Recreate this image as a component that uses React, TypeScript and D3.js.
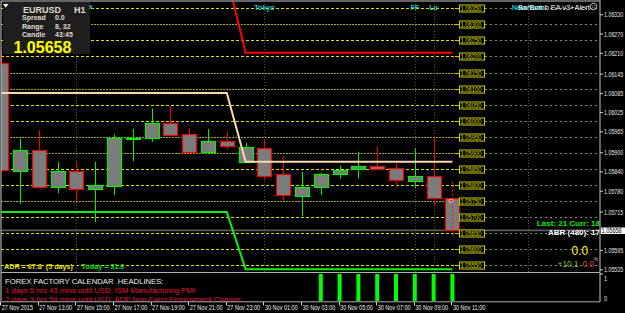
import React from 'react';
import * as d3 from 'd3';

const W = 625;
const H = 313;

// ---- data ----
const timeTickBars = [0, 2, 4, 6, 8, 10, 12, 14, 16, 18, 20, 22, 24];
const timeTickLabels = [
  '27 Nov 2015', '27 Nov 13:00', '27 Nov 15:00', '27 Nov 17:00', '27 Nov 19:00',
  '27 Nov 21:00', '27 Nov 23:00', '30 Nov 01:00', '30 Nov 03:00', '30 Nov 05:00',
  '30 Nov 07:00', '30 Nov 09:00', '30 Nov 11:00',
];

const opens = [1.06181, 1.05843, 1.05909, 1.05794, 1.05842, 1.05786, 1.05797, 1.05945, 1.05945, 1.05993, 1.05957, 1.05901, 1.05937, 1.05872, 1.05914, 1.05833, 1.05766, 1.05793, 1.05833, 1.05848, 1.05858, 1.05851, 1.05811, 1.05828, 1.05758];
const highs = [1.06220, 1.05943, 1.05971, 1.05871, 1.05871, 1.05871, 1.05958, 1.05974, 1.06038, 1.06046, 1.05976, 1.05974, 1.05966, 1.05931, 1.05940, 1.05890, 1.05840, 1.05838, 1.05859, 1.05903, 1.05919, 1.05867, 1.05914, 1.05950, 1.05810];
const lows = [1.05840, 1.05740, 1.05794, 1.05774, 1.05750, 1.05684, 1.05768, 1.05874, 1.05934, 1.05956, 1.05901, 1.05901, 1.05909, 1.05872, 1.05815, 1.05750, 1.05703, 1.05768, 1.05819, 1.05819, 1.05850, 1.05792, 1.05789, 1.05737, 1.05634];
const closes = [1.05846, 1.05909, 1.05794, 1.05842, 1.05788, 1.05798, 1.05945, 1.05946, 1.05993, 1.05956, 1.05901, 1.05936, 1.05920, 1.05918, 1.05827, 1.05767, 1.05792, 1.05833, 1.05847, 1.05859, 1.05850, 1.05814, 1.05828, 1.05758, 1.05658];

const levelPrices = [1.0635, 1.063, 1.0625, 1.062, 1.0615, 1.061, 1.0605, 1.06, 1.0595, 1.059, 1.0585, 1.058, 1.0575, 1.057, 1.0565, 1.056, 1.0555];
// 1.05655 sits under the bid price box in the reference, so it is not drawn
const axisPrices = [1.0633, 1.0627, 1.0621, 1.06145, 1.06085, 1.06025, 1.05965, 1.059, 1.0584, 1.0578, 1.05715, 1.05595, 1.05535];

const upperStop = [1.06086, 1.06086, 1.06086, 1.06086, 1.06086, 1.06086, 1.06086, 1.06086, 1.06086, 1.06086, 1.06086, 1.06086, 1.06086, 1.05872, 1.05872, 1.05872, 1.05872, 1.05872, 1.05872, 1.05872, 1.05872, 1.05872, 1.05872, 1.05872, 1.05872];
const redStop = [1.06451, 1.06451, 1.06451, 1.06451, 1.06451, 1.06451, 1.06451, 1.06451, 1.06451, 1.06451, 1.06451, 1.06451, 1.06451, 1.06212, 1.06212, 1.06212, 1.06212, 1.06212, 1.06212, 1.06212, 1.06212, 1.06212, 1.06212, 1.06212, 1.06212];
const greenStop = [1.05715, 1.05715, 1.05715, 1.05715, 1.05715, 1.05715, 1.05715, 1.05715, 1.05715, 1.05715, 1.05715, 1.05715, 1.05715, 1.05537, 1.05537, 1.05537, 1.05537, 1.05537, 1.05537, 1.05537, 1.05537, 1.05537, 1.05537, 1.05537, 1.05537];

const signalHist = [0, 0, 0, 0, 0, 0, 0, 0, 0, 0, 0, 0, 0, 0, 0, 0, 0, 1, 1, 1, 1, 1, 1, 1, 1];

const sessionBars = [4, 14, 22, 23, 28];
const sessionNames = ['', 'Tokyo', 'FF', 'Lo', 'New York'];

const symbol = 'EURUSD';
const timeframe = 'H1';
const spread = '0.0';
const range = '8, 32';
const candleTime = '43:45';
const bid = 1.05658;

const adrText = 'ADR = 67.8  (5 days)';
const todayText = 'Today = 31.6';
const newsTitle = 'FOREX FACTORY CALENDAR  HEADLINES:';
const newsLines = [
  '1 days 5 hrs 43 mins until USD: ISM Manufacturing PMI',
  '2 days 3 hrs 58 mins until USD: ADP Non-Farm Employment Change',
];
const barCountText = 'Last: 21 Curr: 18';
const abrText = 'ABR (480): 17';
const bigValue = '0.0';
const plusValue = '+10.1';
const redValue = '0.0';

const FONT = "'Liberation Sans', Arial, sans-serif";

type TP = {
  x: number; y: number; children: React.ReactNode; size?: number; fill?: string;
  sx?: number; weight?: number | string; anchor?: 'start' | 'middle' | 'end'; family?: string;
};
const Txt = ({ x, y, children, size = 7, fill = '#fff', sx = 1, weight = 400, anchor = 'start', family = FONT }: TP) => (
  <text
    transform={`translate(${x},${y}) scale(${sx},1)`}
    fontSize={size}
    fill={fill}
    fontWeight={weight}
    textAnchor={anchor}
    fontFamily={family}
    style={{ whiteSpace: 'pre' }}
  >
    {children}
  </text>
);

export default function App() {
  const x = d3.scaleLinear().domain([0, 24]).range([1.2, 452.4]);
  const y = d3.scaleLinear().domain([1.0555, 1.0635]).range([265, 8.36]);
  const yh = d3.scaleLinear().domain([0, 1]).range([301, 274]);
  const fmt = d3.format('.5f');
  const mkLine = (vals: number[]) =>
    d3.line<number>().x((_, i) => x(i)).y((v) => y(v))(vals) || '';
  const bodyW = 14;

  return (
    <svg
      width={W}
      height={H}
      style={{ position: 'absolute', left: 0, top: 0, display: 'block' }}
    >
      <defs>
        <clipPath id="mainClip">
          <rect x={1} y={1.5} width={599} height={270.5} />
        </clipPath>
        <clipPath id="subClip">
          <rect x={1} y={273.5} width={599} height={28} />
        </clipPath>
      </defs>
      <rect x={0} y={0} width={W} height={H} fill="#000" />

      <g clipPath="url(#mainClip)">
        {/* level lines */}
        {levelPrices.map((p, i) => {
          const dense = i > 0 && i <= 12 && (i % 4 === 0 || i % 4 === 1);
          const yy = Math.round(y(p)) + 0.5;
          return (
            <g key={'lv' + i}>
              <line x1={1} x2={455} y1={yy} y2={yy}
                stroke={dense ? '#a8a820' : '#e0e000'} strokeWidth={1}
                strokeDasharray={dense ? '2,1' : '3,2'} />
              <line x1={455} x2={459} y1={yy} y2={yy} stroke="#d0d000" strokeWidth={1} />
              <line x1={485} x2={600} y1={yy} y2={yy} stroke="#8a8a8a" strokeWidth={1} strokeDasharray="2,3" />
            </g>
          );
        })}

        {/* session lines */}
        {sessionBars.map((b, i) => (
          <line key={'ss' + i} x1={Math.round(x(b)) + 0.5} x2={Math.round(x(b)) + 0.5} y1={1} y2={272}
            stroke="#5a5a14" strokeWidth={1} strokeDasharray="1,2" />
        ))}

        {/* bid line */}
        <line x1={1} x2={600} y1={y(bid)} y2={y(bid)} stroke="#5c5c5c" strokeWidth={1.6} />

        {/* candles */}
        {opens.map((o, i) => {
          const c = closes[i];
          const up = c >= o;
          const col = up ? '#00f000' : '#f00000';
          const cx = Math.round(x(i)) + 0.5;
          const top = Math.round(y(Math.max(o, c))) + 0.5;
          const bot = Math.round(y(Math.min(o, c))) + 0.5;
          const isLast = i === opens.length - 1;
          return (
            <g key={'cd' + i}>
              {!isLast && (
                <line x1={cx} x2={cx} y1={y(highs[i])} y2={y(lows[i])} stroke={col} strokeWidth={1} />
              )}
              <rect x={cx - bodyW / 2} y={top} width={bodyW} height={Math.max(bot - top, 1)}
                fill="#7c7c7c" stroke={col} strokeWidth={1.2} />
              {isLast && (
                <line x1={cx} x2={cx} y1={y(highs[i])} y2={y(lows[i])} stroke="#ff1010"
                  strokeWidth={1} strokeDasharray="2,2" />
              )}
            </g>
          );
        })}
        {/* marker on current bar */}
        <circle cx={x(24) - 1.5} cy={y(opens[24]) + 2.5} r={1.8} fill="#ff2020" stroke="#ffffff" strokeWidth={0.6} />

        {/* stop lines */}
        <path d={mkLine(upperStop)} fill="none" stroke="#f8d8b0" strokeWidth={2} />
        <path d={mkLine(redStop)} fill="none" stroke="#ff0000" strokeWidth={2} />
        <path d={mkLine(greenStop)} fill="none" stroke="#10f010" strokeWidth={2} />

        {/* level labels */}
        {levelPrices.map((p, i) => {
          const yy = Math.round(y(p)) + 0.5;
          return (
            <g key={'lb' + i}>
              <rect x={459.5} y={yy - 3.5} width={25} height={7} fill="#000" stroke="#d0d000" strokeWidth={1} />
              <Txt x={460.5} y={yy + 2.3} size={7} sx={0.83} fill="#d8d800">{fmt(p)}</Txt>
            </g>
          );
        })}
      </g>

      {/* session labels */}
      {sessionBars.map((b, i) =>
        sessionNames[i] ? (
          <Txt key={'sl' + i} x={x(b)} y={9.5} size={7} weight={700} fill="#19c8d6" anchor="middle">{sessionNames[i]}</Txt>
        ) : null
      )}
      <Txt x={518} y={9.7} size={7.4} fill="#ffffff">BarBomb EA v3+Alert</Txt>
      <g>
        <circle cx={593.5} cy={6.5} r={3.3} fill="none" stroke="#e0e0e0" strokeWidth={0.8} />
        <circle cx={592.3} cy={5.7} r={0.5} fill="#e0e0e0" />
        <circle cx={594.7} cy={5.7} r={0.5} fill="#e0e0e0" />
        <path d="M591.8,7.4 Q593.5,9 595.2,7.4" fill="none" stroke="#e0e0e0" strokeWidth={0.6} />
      </g>

      {/* info box */}
      <rect x={3} y={2} width={87} height={52} fill="#1e1e1e" />
      <polygon points="3,4 8.5,4 5.75,7.5" fill="#ffffff" />
      <Txt x={23} y={12.8} size={9} weight={700} fill="#e0dccc">{symbol}</Txt>
      <Txt x={74} y={12.8} size={9} weight={700} fill="#e0dccc">{timeframe}</Txt>
      <Txt x={22} y={20} size={7} weight={700} fill="#e0dccc">Spread</Txt>
      <Txt x={55} y={20} size={7} weight={700} fill="#e0dccc">{spread}</Txt>
      <Txt x={22} y={28.5} size={7} weight={700} fill="#e0dccc">Range</Txt>
      <Txt x={55} y={28.5} size={7} weight={700} fill="#e0dccc">{range}</Txt>
      <Txt x={22} y={37} size={7} weight={700} fill="#e0dccc">Candle</Txt>
      <Txt x={55} y={37} size={7} weight={700} fill="#e0dccc">{candleTime}</Txt>
      <Txt x={13.5} y={53} size={16} weight={700} fill="#ffff00">{fmt(bid)}</Txt>
      <Txt x={89} y={8.5} size={6.5} weight={700} fill="#19c8d6">x</Txt>

      {/* ADR text */}
      <Txt x={4} y={269.3} size={7.2} weight={700} fill="#e6e600">{adrText}</Txt>
      <Txt x={81.5} y={269.3} size={7.2} weight={700} fill="#10e010">{todayText}</Txt>

      {/* right side info texts */}
      <Txt x={600} y={225.8} size={8} weight={700} fill="#00f000" anchor="end">{barCountText}</Txt>
      <Txt x={600} y={234.5} size={8} weight={700} fill="#ffffff" anchor="end">{abrText}</Txt>
      <Txt x={571.5} y={254.5} size={12} fill="#ffff00">{bigValue}</Txt>
      <Txt x={557.5} y={267} size={8.4} fill="#7cc030">{plusValue}</Txt>
      <Txt x={582.5} y={267} size={8.4} fill="#e04818">{redValue}</Txt>
      <Txt x={594} y={261} size={4.5} fill="#c8c8c8">%</Txt>

      {/* main panel frame */}
      <line x1={0.5} x2={600} y1={1} y2={1} stroke="#c8c8c8" strokeWidth={1} />
      <line x1={1} x2={1} y1={1} y2={302} stroke="#d0d0d0" strokeWidth={1} />
      <line x1={1} x2={600} y1={272.5} y2={272.5} stroke="#b0b0b0" strokeWidth={1} />

      {/* sub panel */}
      <g clipPath="url(#subClip)">
        {signalHist.map((v, i) =>
          v > 0 ? (
            <rect key={'h' + i} x={x(i) - 2} y={yh(v)} width={4} height={yh(0) - yh(v)} fill="#00ff00" />
          ) : null
        )}
        <Txt x={5} y={283.5} size={7.7} fill="#f0f0f0">{newsTitle}</Txt>
        {newsLines.map((t, i) => (
          <Txt key={'n' + i} x={5} y={292.7 + i * 9.2} size={7.7} fill="#e0143c">{t}</Txt>
        ))}
      </g>
      <line x1={1} x2={600} y1={301.8} y2={301.8} stroke="#b0b0b0" strokeWidth={1} />

      {/* right axis */}
      <line x1={600} x2={600} y1={0} y2={302} stroke="#909090" strokeWidth={1.4} />
      {axisPrices.map((p, i) => (
        <g key={'ax' + i}>
          <line x1={600} x2={603} y1={y(p)} y2={y(p)} stroke="#d0d0d0" strokeWidth={1} />
          <Txt x={604} y={y(p) + 2.5} size={7} sx={0.76} fill="#e8e8e8">{fmt(p)}</Txt>
        </g>
      ))}
      <rect x={601} y={227.5} width={24} height={6.5} fill="#ffffff" />
      <Txt x={601.5} y={233.2} size={7} sx={0.8} fill="#000000">{fmt(bid)}</Txt>
      <line x1={600} x2={603} y1={yh(1)} y2={yh(1)} stroke="#d0d0d0" strokeWidth={1} />
      <Txt x={604} y={yh(1) + 6.5} size={7} sx={0.8} fill="#e8e8e8">1</Txt>
      <Txt x={604} y={yh(0) - 0.5} size={7} sx={0.8} fill="#e8e8e8">0</Txt>

      {/* time axis */}
      {timeTickBars.map((b, i) => (
        <g key={'tt' + i}>
          <line x1={Math.round(x(b)) - 0.5} x2={Math.round(x(b)) - 0.5} y1={302} y2={305.5} stroke="#d0d0d0" strokeWidth={1} />
          <Txt x={Math.max(x(b) + 0.5, 1.5)} y={310} size={7} sx={0.79} fill="#f0f0f0">{timeTickLabels[i]}</Txt>
        </g>
      ))}
    </svg>
  );
}
